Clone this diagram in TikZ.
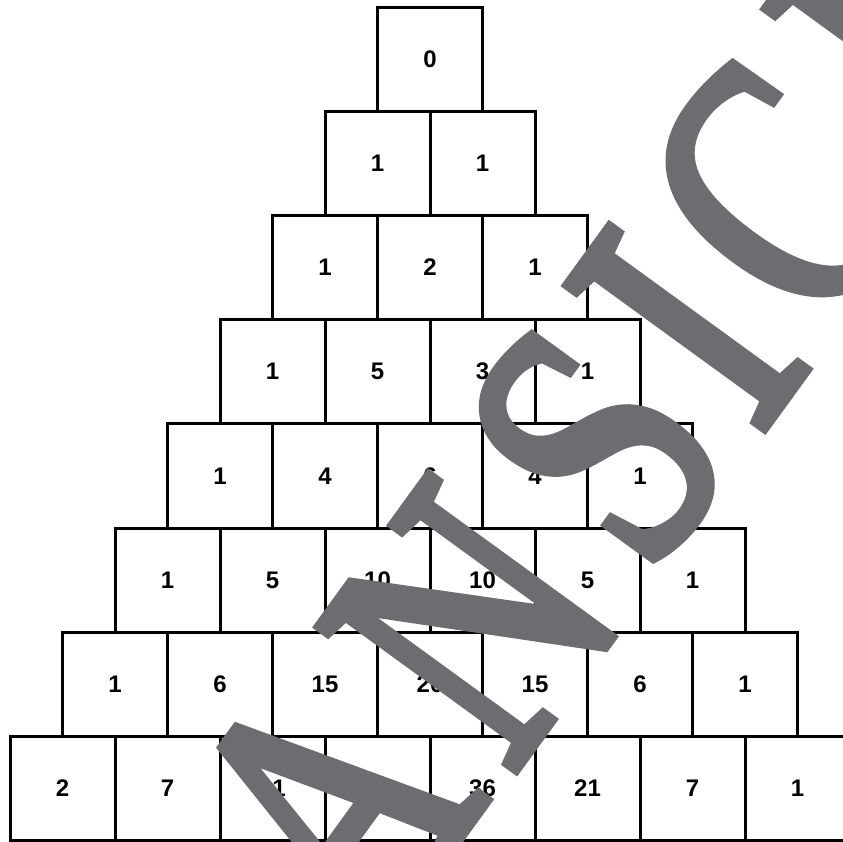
\documentclass[tikz,border=0pt]{standalone}
\usepackage{fontspec}
\usepackage{graphicx}
\newfontfamily\numfont{Liberation Sans}
\newfontfamily\wmfont{Liberation Serif}[FakeBold=3]
\definecolor{wmgray}{RGB}{108,109,113}
\tikzset{
  cell/.style={draw=black, line width=3pt, minimum width=105pt, minimum height=104.2pt,
    inner sep=0pt, outer sep=0pt, font=\numfont\bfseries\fontsize{24}{24}\selectfont},
  watermark/.style={text=wmgray, inner sep=0pt, outer sep=0pt, rotate=54,
    font=\wmfont\fontsize{370}{370}\selectfont}
}
\begin{document}
\begin{tikzpicture}[x=1pt,y=-1pt]
\useasboundingbox (0,0) rectangle (843,841);
\clip (0,0) rectangle (843,841);
\foreach \r/\vals in {0/{0},1/{1,1},2/{1,2,1},3/{1,5,3,1},4/{1,4,6,4,1},5/{1,5,10,10,5,1},6/{1,6,15,20,15,6,1},7/{2,7,21,35,36,21,7,1}}{
  \foreach \v [count=\c from 0] in \vals {
    \node[cell] (r\r c\c) at ({430-52.5*\r+105*\c},{7+104.2*\r+52.1}) {\v};
  }
}
\foreach \l/\x/\y in {A/330/808, N/472/623, S/597/445, I/687/327.5, C/783/192, H/919/5}{
  \node[watermark] (wm\l) at (\x,\y) {\scalebox{0.76}[1]{\l}};
}
\end{tikzpicture}
\end{document}
